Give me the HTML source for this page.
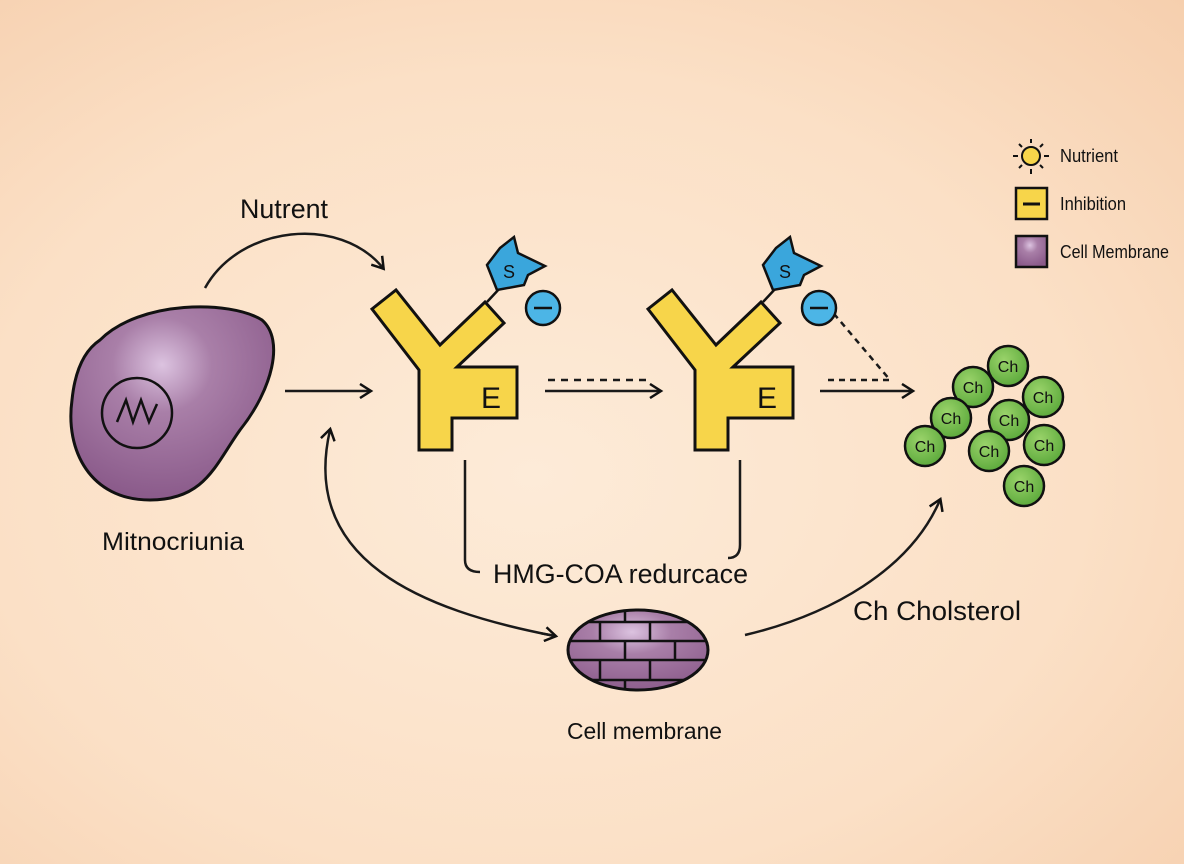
<!DOCTYPE html>
<html><head><meta charset="utf-8"><style>
html,body{margin:0;padding:0}
body{width:1184px;height:864px;overflow:hidden;background:radial-gradient(ellipse at 45% 55%,#fdebd8 0%,#fbe0c6 60%,#f6cfae 100%);font-family:"Liberation Sans",sans-serif}
svg{position:absolute;left:0;top:0}
</style></head><body>
<svg width="1184" height="864" viewBox="0 0 1184 864">
<defs>
<radialGradient id="pur" cx="0.45" cy="0.3" r="0.7"><stop offset="0" stop-color="#dcc3e0"/><stop offset="0.35" stop-color="#a97fa8"/><stop offset="1" stop-color="#8a5a8a"/></radialGradient>
<radialGradient id="grn" cx="0.4" cy="0.35" r="0.7"><stop offset="0" stop-color="#9ad36a"/><stop offset="1" stop-color="#5aa83a"/></radialGradient>
<marker id="ah" markerWidth="16" markerHeight="16" refX="12" refY="8" orient="auto" markerUnits="userSpaceOnUse"><path d="M2 1 L13 8 L2 15" fill="none" stroke="#111" stroke-width="2.5"/></marker>
<clipPath id="ec"><ellipse cx="638" cy="650" rx="70" ry="40"/></clipPath>
</defs>
<g fill="none" stroke="#1a1a1a" stroke-width="2.5">
<path d="M205 288 C240 225 340 215 383 268" marker-end="url(#ah)"/>
<path d="M285 391 L370 391" marker-end="url(#ah)"/>
<path d="M545 391 L660 391" marker-end="url(#ah)"/>
<path d="M548 380 L650 380" stroke-dasharray="7 6"/>
<path d="M820 391 L912 391" marker-end="url(#ah)"/>
<path d="M828 380 L890 380 L835 315" stroke-dasharray="6 5"/>
<path d="M555 636 C420 610 300 560 330 430" marker-end="url(#ah)" />
<path d="M541 633.3 L555 636" marker-end="url(#ah)"/>
<path d="M745 635 C830 615 910 570 940 500" marker-end="url(#ah)"/>
<path d="M465 460 L465 560 Q465 572 480 572"/>
<path d="M740 460 L740 545 Q740 558 728 558"/>
</g>
<path d="M100 340 C140 300 230 300 262 320 C285 340 272 390 240 430 C215 465 205 500 150 500 C90 500 65 450 72 400 C75 370 85 350 100 340 Z" fill="url(#pur)" stroke="#111" stroke-width="3"/>
<circle cx="137" cy="413" r="35" fill="none" stroke="#111" stroke-width="2.5"/>
<path d="M117 422 L126 400 L133 422 L141 400 L149 422 L157 404" fill="none" stroke="#111" stroke-width="2.5"/>
<g id="Y">
<polygon points="372,309 396,290 440,345 485,302 504,323 457,367 517,367 517,418 452,418 452,450 419,450 419,370" fill="#f7d54a" stroke="#111" stroke-width="3"/>
<text x="481" y="408" font-size="30" fill="#111">E</text>
<line x1="487" y1="302" x2="500" y2="288" stroke="#111" stroke-width="2.5"/>
<polygon points="497,290 487,265 500,248 514,237 518,253 545,266 528,275 524,285" fill="#3aa6dc" stroke="#111" stroke-width="2.5"/>
<text x="503" y="278" font-size="18" fill="#111">S</text>
<circle cx="543" cy="308" r="17" fill="#4cb5e6" stroke="#111" stroke-width="2.5"/>
<line x1="534" y1="308" x2="552" y2="308" stroke="#111" stroke-width="2.5"/>
</g>
<use href="#Y" transform="translate(276,0)"/>
<g stroke="#111" stroke-width="2.5" font-size="16" text-anchor="middle">
<g fill="url(#grn)">
<circle cx="1008" cy="366" r="20"/><circle cx="973" cy="387" r="20"/><circle cx="951" cy="418" r="20"/><circle cx="925" cy="446" r="20"/><circle cx="1043" cy="397" r="20"/><circle cx="1009" cy="420" r="20"/><circle cx="989" cy="451" r="20"/><circle cx="1044" cy="445" r="20"/><circle cx="1024" cy="486" r="20"/>
</g>
<g fill="#111" stroke="none">
<text x="1008" y="372">Ch</text><text x="973" y="393">Ch</text><text x="951" y="424">Ch</text><text x="925" y="452">Ch</text><text x="1043" y="403">Ch</text><text x="1009" y="426">Ch</text><text x="989" y="457">Ch</text><text x="1044" y="451">Ch</text><text x="1024" y="492">Ch</text>
</g></g>
<g clip-path="url(#ec)">
<rect x="560" y="605" width="160" height="90" fill="url(#pur)"/>
<g stroke="#111" stroke-width="2.5">
<line x1="560" y1="622" x2="720" y2="622"/><line x1="560" y1="641" x2="720" y2="641"/><line x1="560" y1="660" x2="720" y2="660"/><line x1="560" y1="680" x2="720" y2="680"/>
<line x1="625" y1="605" x2="625" y2="622"/><line x1="600" y1="622" x2="600" y2="641"/><line x1="650" y1="622" x2="650" y2="641"/>
<line x1="625" y1="641" x2="625" y2="660"/><line x1="675" y1="641" x2="675" y2="660"/>
<line x1="600" y1="660" x2="600" y2="680"/><line x1="650" y1="660" x2="650" y2="680"/><line x1="625" y1="680" x2="625" y2="695"/>
</g></g>
<ellipse cx="638" cy="650" rx="70" ry="40" fill="none" stroke="#111" stroke-width="3"/>
<g fill="#111">
<text x="240" y="218" font-size="27" textLength="88" lengthAdjust="spacingAndGlyphs">Nutrent</text>
<text x="102" y="550" font-size="25" textLength="142" lengthAdjust="spacingAndGlyphs">Mitnocriunia</text>
<text x="493" y="583" font-size="27" textLength="255" lengthAdjust="spacingAndGlyphs">HMG-COA redurcace</text>
<text x="853" y="620" font-size="27" textLength="168" lengthAdjust="spacingAndGlyphs">Ch Cholsterol</text>
<text x="567" y="739" font-size="23" textLength="155" lengthAdjust="spacingAndGlyphs">Cell membrane</text>
<text x="1060" y="162" font-size="18" textLength="58" lengthAdjust="spacingAndGlyphs">Nutrient</text>
<text x="1060" y="210" font-size="18" textLength="66" lengthAdjust="spacingAndGlyphs">Inhibition</text>
<text x="1060" y="258" font-size="18" textLength="109" lengthAdjust="spacingAndGlyphs">Cell Membrane</text>
</g>
<circle cx="1031" cy="156" r="9" fill="#f7d54a" stroke="#111" stroke-width="2"/>
<g stroke="#111" stroke-width="2"><line x1="1031" y1="139" x2="1031" y2="143"/><line x1="1031" y1="169" x2="1031" y2="174"/><line x1="1013" y1="156" x2="1018" y2="156"/><line x1="1044" y1="156" x2="1049" y2="156"/><line x1="1019" y1="144" x2="1022" y2="147"/><line x1="1040" y1="165" x2="1043" y2="168"/><line x1="1043" y1="144" x2="1040" y2="147"/><line x1="1019" y1="168" x2="1022" y2="165"/></g>
<rect x="1016" y="188" width="31" height="31" fill="#f7d54a" stroke="#111" stroke-width="2.5"/>
<line x1="1023" y1="204" x2="1040" y2="204" stroke="#111" stroke-width="3"/>
<rect x="1016" y="236" width="31" height="31" fill="url(#pur)" stroke="#111" stroke-width="2.5"/>
</svg>
</body></html>
